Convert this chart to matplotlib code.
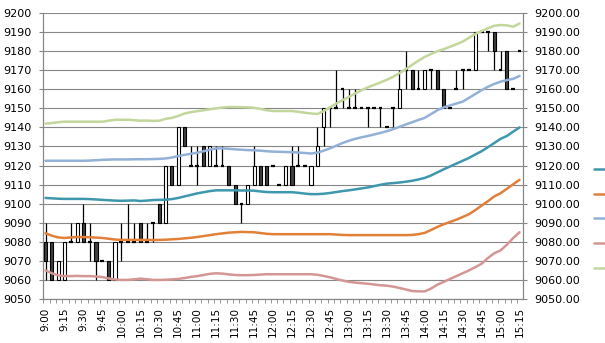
import matplotlib
matplotlib.use("Agg")
import matplotlib.pyplot as plt
import numpy as np

# 5-minute bars, 9:00 .. 15:15
times = ["%d:%02d" % (9 + (m // 60), m % 60) for m in range(0, 380, 5)]

opens = [9080, 9080, 9060, 9060, 9080, 9080, 9090, 9080, 9080, 9070,
         9070, 9060, 9080, 9080, 9080, 9090, 9080, 9090, 9100, 9090,
         9120, 9110, 9140, 9120, 9120, 9130, 9120, 9120, 9120, 9120,
         9110, 9100, 9100, 9110, 9120, 9120, 9120, 9110, 9110, 9120,
         9120, 9120, 9110, 9120, 9140, 9150, 9150, 9160, 9150, 9150,
         9150, 9150, 9150, 9150, 9140, 9150, 9150, 9170, 9170, 9160,
         9160, 9170, 9170, 9160, 9150, 9160, 9170, 9170, 9170, 9190,
         9190, 9190, 9170, 9180, 9160, 9180]
highs = [9090, 9080, 9070, 9080, 9090, 9090, 9100, 9090, 9080, 9070,
         9070, 9080, 9090, 9100, 9090, 9090, 9090, 9090, 9100, 9120,
         9120, 9140, 9140, 9130, 9130, 9130, 9130, 9130, 9130, 9120,
         9110, 9100, 9110, 9130, 9120, 9120, 9120, 9110, 9120, 9130,
         9130, 9120, 9120, 9140, 9150, 9150, 9170, 9160, 9160, 9160,
         9150, 9150, 9150, 9150, 9140, 9150, 9170, 9180, 9170, 9170,
         9170, 9170, 9170, 9160, 9150, 9170, 9170, 9170, 9190, 9190,
         9190, 9190, 9180, 9180, 9160, 9180]
lows = [9060, 9060, 9060, 9060, 9080, 9080, 9080, 9070, 9060, 9070,
        9060, 9060, 9070, 9080, 9080, 9080, 9080, 9080, 9090, 9090,
        9110, 9110, 9130, 9120, 9110, 9120, 9120, 9120, 9120, 9110,
        9100, 9090, 9100, 9110, 9110, 9110, 9120, 9110, 9110, 9110,
        9120, 9120, 9110, 9120, 9130, 9140, 9150, 9150, 9150, 9150,
        9150, 9140, 9150, 9140, 9140, 9140, 9150, 9160, 9160, 9160,
        9160, 9160, 9160, 9150, 9150, 9160, 9160, 9170, 9170, 9190,
        9180, 9170, 9170, 9160, 9160, 9180]
closes = [9070, 9060, 9070, 9080, 9080, 9090, 9080, 9080, 9070, 9070,
          9060, 9080, 9080, 9080, 9080, 9080, 9080, 9090, 9090, 9120,
          9110, 9140, 9130, 9120, 9120, 9120, 9130, 9120, 9120, 9110,
          9100, 9100, 9110, 9120, 9110, 9110, 9120, 9110, 9120, 9110,
          9120, 9120, 9120, 9130, 9150, 9150, 9150, 9160, 9150, 9150,
          9150, 9150, 9150, 9150, 9140, 9150, 9160, 9170, 9160, 9160,
          9170, 9170, 9160, 9150, 9150, 9160, 9170, 9170, 9190, 9190,
          9190, 9180, 9170, 9160, 9160, 9180]

line_teal = [9103, 9102.8, 9102.6, 9102.5, 9102.5, 9102.5, 9102.5, 9102.4, 9102.2, 9102,
             9101.8, 9101.6, 9101.5, 9101.6, 9101.7, 9101.4, 9101.6, 9101.9, 9102, 9102.1,
             9102.4, 9103, 9103.8, 9104.6, 9105.4, 9106, 9106.6, 9107, 9107, 9107,
             9107, 9106.9, 9106.9, 9106.8, 9106.4, 9106.1, 9106, 9106, 9106, 9106,
             9105.7, 9105.3, 9105, 9105, 9105.2, 9105.6, 9106.1, 9106.6, 9107, 9107.5,
             9108, 9108.5, 9109.2, 9109.9, 9110.5, 9110.8, 9111.1, 9111.5, 9112, 9112.7,
             9113.5, 9114.8, 9116.4, 9118, 9119.5, 9121, 9122.5, 9124, 9125.8, 9127.5,
             9129.6, 9131.8, 9134, 9135.5, 9137.8, 9140]
line_orange = [9084.5, 9083.2, 9082.3, 9082, 9082.3, 9082.5, 9082.5, 9082.4, 9082.2, 9082,
               9081.6, 9081.2, 9081, 9081, 9081, 9081, 9081, 9080.9, 9081, 9081.1,
               9081.3, 9081.5, 9081.8, 9082.1, 9082.5, 9083, 9083.5, 9084, 9084.4, 9084.8,
               9085, 9085.2, 9085.1, 9085, 9084.6, 9084.2, 9084, 9084, 9084, 9084,
               9084, 9084, 9084, 9084, 9084, 9084, 9083.8, 9083.6, 9083.5, 9083.5,
               9083.5, 9083.5, 9083.5, 9083.5, 9083.5, 9083.5, 9083.5, 9083.5, 9083.6, 9084,
               9084.7, 9086.2, 9087.8, 9089.2, 9090.4, 9091.6, 9093, 9094.5, 9096.6, 9099,
               9101.3, 9103.8, 9105.5, 9107.8, 9110.2, 9112.5]
line_blue = [9122.5, 9122.5, 9122.5, 9122.5, 9122.5, 9122.5, 9122.5, 9122.6, 9122.8, 9123,
             9123.1, 9123.2, 9123.2, 9123.2, 9123.3, 9123.3, 9123.3, 9123.4, 9123.5, 9123.7,
             9124.2, 9125, 9125.6, 9126.2, 9126.7, 9127.5, 9128.3, 9129, 9129, 9128.8,
             9128.5, 9128.3, 9128.1, 9128, 9127.8, 9127.5, 9127.3, 9127.2, 9127.1, 9127,
             9126.8, 9126.6, 9126.3, 9126.7, 9127.8, 9129, 9130.4, 9131.8, 9133, 9134,
             9134.8, 9135.5, 9136.3, 9137.1, 9138, 9139.1, 9140.3, 9141.5, 9142.7, 9143.9,
             9145, 9147, 9149, 9150.5, 9151.5, 9152.5, 9153.5, 9155.5, 9157.5, 9159.5,
             9161.3, 9162.8, 9164, 9164.8, 9165.5, 9167]
line_pink = [9065, 9063.5, 9062.4, 9062, 9062, 9062.1, 9062, 9062, 9061.8, 9061.5,
             9060.8, 9060.2, 9060, 9060, 9060.3, 9060.7, 9060.4, 9060, 9060, 9060.1,
             9060.3, 9060.5, 9061, 9061.6, 9062, 9062.6, 9063.2, 9063.5, 9063.3, 9062.9,
             9062.6, 9062.5, 9062.5, 9062.6, 9062.8, 9063, 9063, 9063, 9063, 9063,
             9063, 9063, 9063, 9062.7, 9062.1, 9061.4, 9060.5, 9059.7, 9059, 9058.6,
             9058.3, 9058, 9057.6, 9057.2, 9057, 9056.5, 9055.8, 9055, 9054.2, 9054,
             9054, 9055.5, 9057.5, 9059, 9060.5, 9062, 9063.5, 9065, 9066.7, 9068.5,
             9071.5, 9074, 9075.5, 9078.5, 9082, 9085]
line_green = [9142, 9142.3, 9142.7, 9143, 9143, 9143, 9143, 9143, 9143, 9143,
              9143.5, 9144, 9144, 9144, 9143.8, 9143.5, 9143.6, 9143.4, 9143.5, 9144.5,
              9145, 9146, 9147.3, 9148, 9148.5, 9149, 9149.5, 9150, 9150.4, 9150.7,
              9150.7, 9150.6, 9150.5, 9150.3, 9149.7, 9149, 9148.6, 9148.6, 9148.6, 9148.6,
              9148.2, 9147.7, 9147.3, 9147, 9148.5, 9150.5, 9152.5, 9154.3, 9156, 9157.8,
              9159.5, 9161, 9162.3, 9163.6, 9165, 9166.5, 9168.5, 9170.5, 9172.8, 9175,
              9177, 9178.5, 9180, 9181, 9182.3, 9183.6, 9185, 9187, 9189, 9190.5,
              9192, 9193.3, 9193.7, 9193.5, 9192.8, 9194.5]

series_names = ["MID", "MA1", "UP1", "DN", "UP2"]
series_colors = ["#3F97AE", "#E2803A", "#93B0D6", "#D49694", "#C3D69B"]

grid_color = "#868686"

fig = plt.figure(figsize=(6.05, 3.43), dpi=100)
ax = fig.add_axes([43.3 / 605, 1 - 299 / 343, (522.7 - 43.3) / 605, (299 - 13) / 343])

x = np.arange(len(times))
o = np.array(opens)
c = np.array(closes)

# candles
ax.vlines(x, lows, highs, color="black", lw=0.9, zorder=2)
up = c > o
down = c < o
flat = c == o
ax.bar(x[up], (c - o)[up], bottom=o[up], width=0.5, color="white",
       edgecolor="black", linewidth=0.8, zorder=3)
ax.bar(x[down], (o - c)[down], bottom=c[down], width=0.5, color="#404040",
       edgecolor="black", linewidth=0.8, zorder=3)
ax.hlines(o[flat], x[flat] - 0.3, x[flat] + 0.3, color="black", lw=1.6, zorder=3)

# bands
handles = []
for vals, col, name in zip([line_teal, line_orange, line_blue, line_pink, line_green],
                           series_colors, series_names):
    h, = ax.plot(x, vals, color=col, lw=1.8, zorder=4, label=name,
                 solid_capstyle="round")
    handles.append(h)

ax.set_ylim(9050, 9200)
ax.set_yticks(np.arange(9050, 9201, 10))
ax.set_xlim(-0.35, 75.5)
ax.grid(axis="y", color=grid_color, lw=0.8)
ax.set_axisbelow(True)

ax.set_xticks(x[::3])
ax.set_xticklabels(times[::3], rotation=90, fontsize=7.5)
ax.set_xticks(np.arange(76) - 0.35, minor=True)
ax.tick_params(axis="x", which="major", length=0, pad=6)
ax.tick_params(axis="x", which="minor", length=3, color=grid_color)
ax.tick_params(axis="y", length=3, color=grid_color, labelsize=8, pad=5.5)

for s in ["top"]:
    ax.spines[s].set_visible(False)
for s in ["left", "bottom", "right"]:
    ax.spines[s].set_color(grid_color)

ax2 = ax.twinx()
ax2.set_ylim(9050, 9200)
ax2.set_yticks(np.arange(9050, 9201, 10))
ax2.set_yticklabels(["%.2f" % v for v in np.arange(9050, 9201, 10)])
ax2.tick_params(axis="y", length=3, color=grid_color, labelsize=8, pad=5.5)
ax2.spines["top"].set_visible(False)
for s in ["left", "bottom", "right"]:
    ax2.spines[s].set_color(grid_color)

fig.legend(handles=handles, loc="upper left", bbox_to_anchor=(594 / 605, 1 - 165 / 343),
           frameon=False, fontsize=8, handlelength=2.0, labelspacing=1.32,
           borderpad=0, borderaxespad=0)

fig.savefig("out.png", dpi=100)
